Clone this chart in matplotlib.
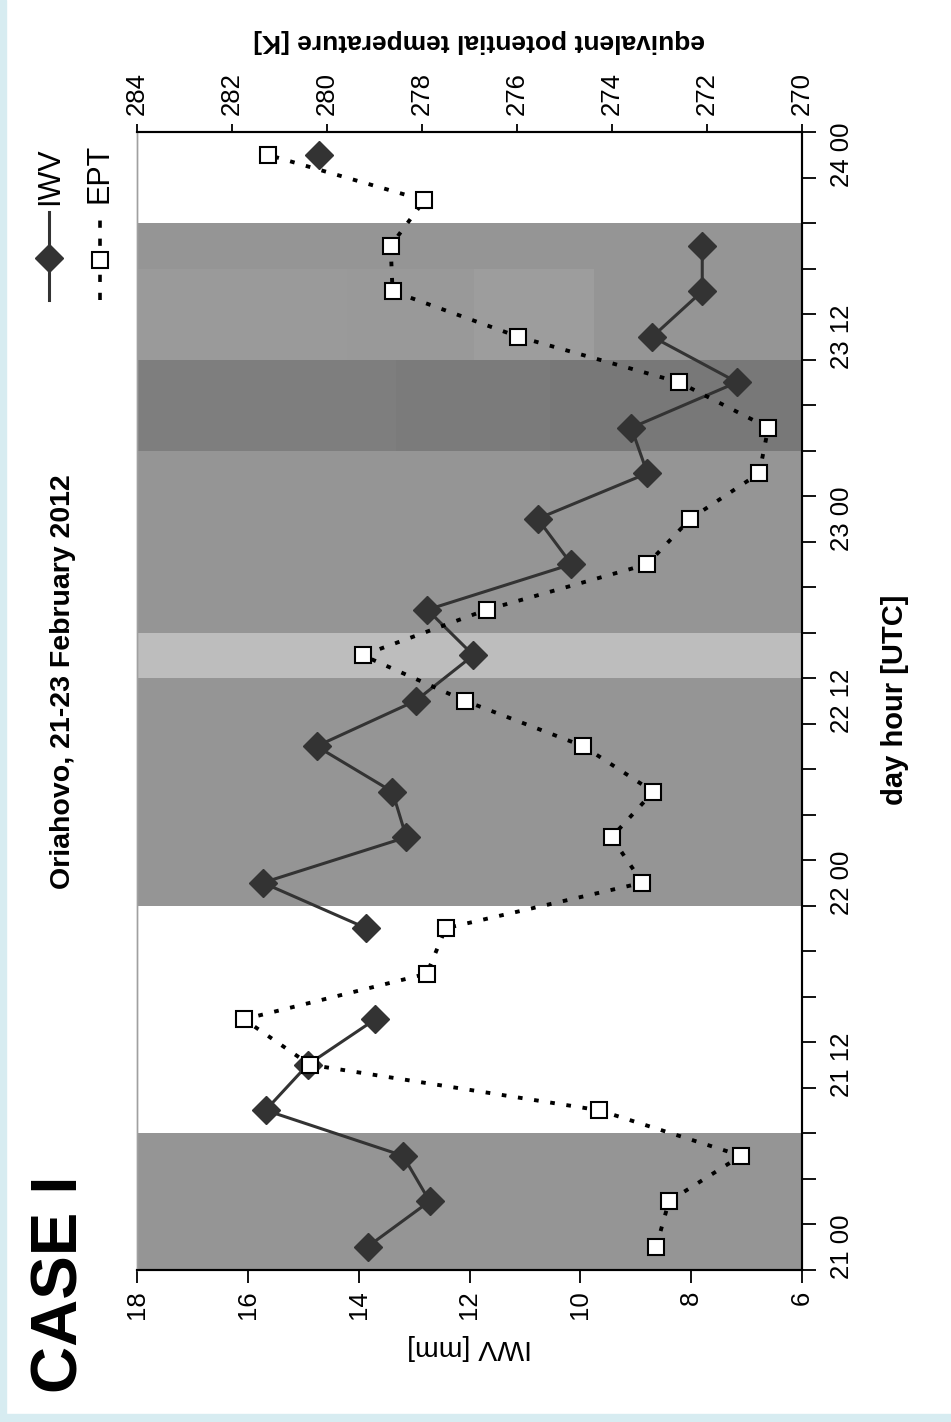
import numpy as np
import matplotlib
matplotlib.use('Agg')
import matplotlib.pyplot as plt
from matplotlib.lines import Line2D
from matplotlib.patches import Rectangle

plt.rcParams['font.family'] = ['Liberation Sans', 'DejaVu Sans']

### Start : Data ---------------------------------------------------------------
nan = np.nan
# 3-hourly slots, 21 Feb 00 UTC .. 24 Feb 00 UTC
hours = ['21 00', '21 03', '21 06', '21 09', '21 12', '21 15', '21 18', '21 21',
         '22 00', '22 03', '22 06', '22 09', '22 12', '22 15', '22 18', '22 21',
         '23 00', '23 03', '23 06', '23 09', '23 12', '23 15', '23 18', '23 21',
         '24 00']
iwv = [13.84, 12.72, 13.20, 15.68, 14.92, 13.70, nan, 13.86,
       15.73, 13.14, 13.39, 14.76, 12.97, 11.93, 12.76, 10.16,
       10.77, 8.79, 9.08, 7.17, 8.70, 7.80, 7.80, nan,
       14.72]
ept = [273.07, 272.80, 271.28, 274.27, 280.36, 281.75, 277.90, 277.50,
       273.36, 274.01, 273.13, 274.60, 277.10, 279.25, 276.64, 273.26,
       272.35, 270.90, 270.71, 272.59, 275.97, 278.62, 278.66, 277.95,
       281.25]
# shaded periods (first slot, last slot, grey)
shade_first = [0, 8, 13, 14, 18, 20, 22]
shade_last = [2, 12, 13, 17, 19, 21, 22]
shade_grey = ['#959595', '#959595', '#bdbdbd', '#959595', '#7e7e7e', '#9a9a9a', '#959595']
# small tone steps inside the two upper bands (slot range, IWV range, grey)
sub_first = [18, 18, 20, 20, 20]
sub_last = [19, 19, 21, 21, 21]
sub_from = [13.32, 10.55, 14.21, 11.92, 9.75]
sub_to = [10.55, 6.0, 11.92, 9.75, 6.0]
sub_grey = ['#7b7b7b', '#787878', '#999999', '#9d9d9d', '#959595']
iwv_ticks = [18, 16, 14, 12, 10, 8, 6]
ept_ticks = [284, 282, 280, 278, 276, 274, 272, 270]
### End : Data -----------------------------------------------------------------

W, H = 951, 1422
fig = plt.figure(figsize=(W / 100, H / 100), dpi=100)
# light blue page border (left and bottom)
fig.patches.append(Rectangle((0, 0), 6 / W, 1, transform=fig.transFigure, color='#d7ecf1', zorder=0))
fig.patches.append(Rectangle((0, 0), 1, 8 / H, transform=fig.transFigure, color='#d7ecf1', zorder=0))

ax = fig.add_axes([137 / W, 1 - 1269.5 / H, 665 / W, 1137.5 / H])
pos = np.arange(len(hours))

for a, b, c in zip(shade_first, shade_last, shade_grey):
    ax.fill_betweenx([a - 0.5, b + 0.5], 18, 6, color=c, lw=0, zorder=0)
for a, b, x0, x1, c in zip(sub_first, sub_last, sub_from, sub_to, sub_grey):
    ax.fill_betweenx([a - 0.5, b + 0.5], x0, x1, color=c, lw=0, zorder=0)

ax.plot(iwv, pos, color='#333333', lw=2.2, marker='D', ms=14, zorder=3)
ax.set_xlim(18, 6)
ax.set_ylim(-0.5, 24.5)

ax2 = ax.twiny()
ax2.plot(ept, pos, color='black', lw=2.8, ls=(0, (1.2, 3)), marker='s', ms=11.5,
         mfc='white', mec='black', mew=1.5, zorder=4)
ax2.set_xlim(284, 270)
ax2.set_ylim(-0.5, 24.5)

### Start : Axes & ticks ---------------------------------------------------------
for a in (ax, ax2):
    for s in a.spines.values():
        s.set_linewidth(1.5)
        s.set_color('black')
    a.spines['left'].set_color('#a0a0a0')
    a.spines['left'].set_linewidth(1)

ax.set_xticks(iwv_ticks)
ax.tick_params(axis='x', direction='out', length=9, width=1.3, labelsize=18.5,
               labelrotation=90, pad=6)
ax.yaxis.tick_right()
ax.set_yticks(pos[::4])
ax.set_yticklabels(hours[::4])
ax.set_yticks(np.arange(-0.5, 25, 1), minor=True)
ax.tick_params(axis='y', which='major', length=0, pad=20, labelsize=18.5, labelrotation=90)
ax.tick_params(axis='y', which='minor', length=10, width=1.3, direction='out')
ax.tick_params(axis='y', which='both', left=False, right=True)
for lab in ax.get_yticklabels():
    lab.set_va('center')

ax2.set_xticks(ept_ticks)
ax2.tick_params(axis='x', direction='out', length=6, width=1.3, labelsize=18.5,
                labelrotation=90, pad=6)
### End : Axes & ticks -----------------------------------------------------------

### Start : Texts ----------------------------------------------------------------
fig.text(61 / W, 1 - 1284 / H, 'CASE I', rotation=90, fontsize=47, fontweight='bold',
         ha='center', va='center')
fig.text(63 / W, 1 - 682 / H, 'Oriahovo, 21-23 February 2012', rotation=90, fontsize=20.5,
         fontweight='bold', ha='center', va='center')
fig.text(895 / W, 1 - 700 / H, 'day hour [UTC]', rotation=90, fontsize=21,
         fontweight='bold', ha='center', va='center')
fig.text(479 / W, 1 - 41 / H, 'equivalent potential temperature [K]', rotation=180,
         fontsize=19, fontweight='bold', ha='center', va='center')
fig.text(470 / W, 1 - 1347 / H, 'IWV [mm]', rotation=180, fontsize=20.5,
         ha='center', va='center')
### End : Texts ------------------------------------------------------------------

### Start : Legend (rotated, drawn by hand) ----------------------------------------
lx1, lx2 = 49 / W, 100 / W
fig.add_artist(Line2D([lx1, lx1], [1 - 300 / H, 1 - 212 / H], color='#333333', lw=2.2,
                      transform=fig.transFigure))
fig.add_artist(Line2D([lx1], [1 - 258 / H], marker='D', ms=14, color='#333333',
                      transform=fig.transFigure))
fig.add_artist(Line2D([lx2, lx2], [1 - 300 / H, 1 - 215 / H], color='black', lw=2.6,
                      ls=(0, (2, 3)), transform=fig.transFigure))
fig.add_artist(Line2D([lx2], [1 - 260 / H], marker='s', ms=11.5, mfc='white', mec='black',
                      mew=1.5, transform=fig.transFigure))
fig.text(lx1 + 1 / W, 1 - 176 / H, 'IWV', rotation=90, fontsize=22, ha='center', va='center')
fig.text(lx2, 1 - 173 / H, 'EPT', rotation=90, fontsize=22, ha='center', va='center')
### End : Legend ----------------------------------------------------------------

fig.savefig('out.png', dpi=100)
